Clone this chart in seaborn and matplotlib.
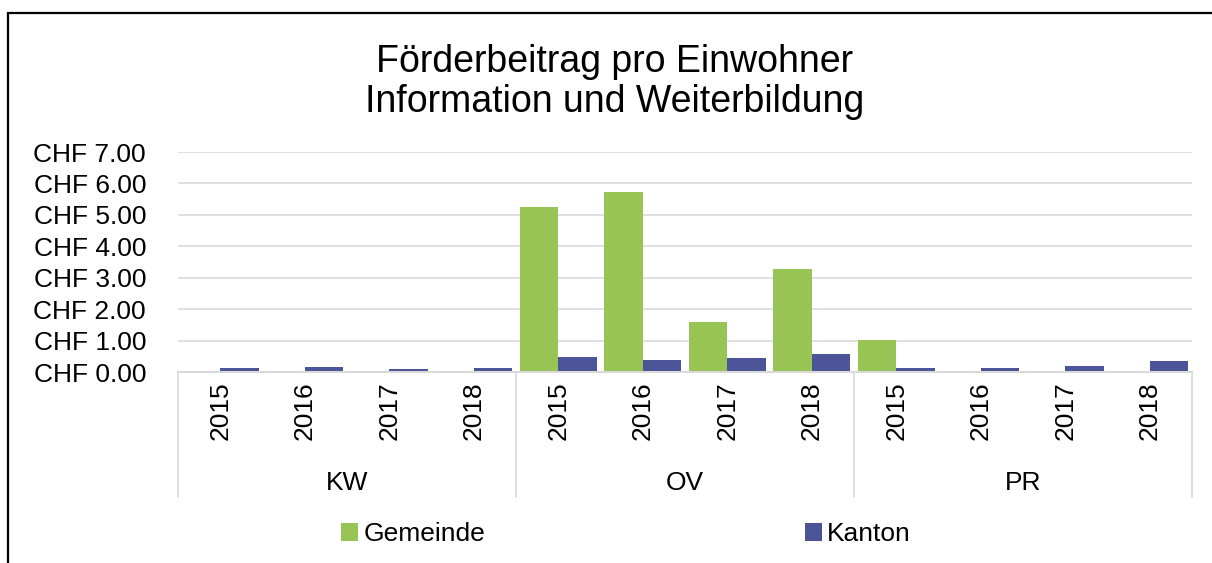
import numpy as np
import pandas as pd
import matplotlib
matplotlib.use("Agg")
import matplotlib.pyplot as plt
import seaborn as sns
from matplotlib.patches import Rectangle
import matplotlib.transforms as mtransforms

# Chart data
groups = ["KW", "OV", "PR"]
years = ["2015", "2016", "2017", "2018"]
series_names = ["Gemeinde", "Kanton"]
gemeinde = [0.00, 0.00, 0.00, 0.00, 5.24, 5.72, 1.60, 3.29, 1.03, 0.00, 0.00, 0.00]
kanton = [0.13, 0.15, 0.09, 0.13, 0.47, 0.38, 0.44, 0.58, 0.13, 0.13, 0.20, 0.35]
y_ticks = [0, 1, 2, 3, 4, 5, 6, 7]
title_lines = ["Förderbeitrag pro Einwohner", "Information und Weiterbildung"]

colors = {"Gemeinde": "#98C455", "Kanton": "#4A5496"}
grid_col = "#D9D9D9"

# build long table
cats = [f"{g} {y}" for g in groups for y in years]
df = pd.DataFrame({
    "cat": cats * 2,
    "series": ["Gemeinde"] * len(cats) + ["Kanton"] * len(cats),
    "value": gemeinde + kanton,
})

sns.set_style("white")
plt.rcParams["font.family"] = ["Liberation Sans", "DejaVu Sans"]
plt.rcParams["text.color"] = "black"
plt.rcParams["xtick.color"] = "black"
plt.rcParams["ytick.color"] = "black"

fig = plt.figure(figsize=(12.12, 5.63), dpi=100)
ax = fig.add_axes([178 / 1212, 1 - 372 / 563, (1192 - 178) / 1212, 220 / 563])

sns.barplot(data=df, x="cat", y="value", hue="series", order=cats,
            hue_order=series_names, palette=colors, width=0.91, saturation=1,
            edgecolor="none", linewidth=0, ax=ax)

handles, labels = ax.get_legend_handles_labels()
ax.get_legend().remove()

ax.set_xlim(-0.5, len(cats) - 0.5)
ax.set_ylim(0, 7)
ax.set_yticks(y_ticks)
ax.set_yticklabels([f"CHF {v:.2f}" for v in y_ticks], fontsize=19)
ax.set_xticks(range(len(cats)))
ax.set_xticklabels(years * len(groups), rotation=90, fontsize=19)
ax.tick_params(axis="y", length=0, pad=23, labelcolor="black")
ax.tick_params(axis="x", length=0, pad=7, labelcolor="black")
ax.set_xlabel("")
ax.set_ylabel("")

for s in ["top", "right", "left"]:
    ax.spines[s].set_visible(False)
ax.spines["bottom"].set_color(grid_col)
ax.spines["bottom"].set_linewidth(1.5)

for v in y_ticks[1:]:
    ax.axhline(v, color=grid_col, lw=1.2, zorder=0)

# category group boxes below the axis
trans = mtransforms.blended_transform_factory(ax.transData, ax.transAxes)
for i in range(len(groups) + 1):
    xpos = i * len(years) - 0.5
    ax.plot([xpos, xpos], [0, -0.568], color=grid_col, lw=1.2,
            transform=trans, clip_on=False)
for i, g in enumerate(groups):
    ax.text(i * len(years) + 1.5, -0.505, g, transform=trans,
            ha="center", va="center", fontsize=19, color="black")

fig.text(615 / 1212, 1 - 82 / 563, "\n".join(title_lines), ha="center",
         va="center", fontsize=27, linespacing=1.12, color="black")

fig.legend(handles, labels, loc="center", bbox_to_anchor=(626 / 1212, 1 - 534 / 563),
           ncol=2, frameon=False, fontsize=19, handlelength=0.65, handleheight=0.65,
           handletextpad=0.2, columnspacing=12.1)

# outer chart border
fig.patches.append(Rectangle((8 / 1212, -0.1), 1.2, 1 - 13 / 563 + 0.1,
                             transform=fig.transFigure, fill=False,
                             edgecolor="black", lw=1.6))

fig.savefig("out.png", dpi=100)
